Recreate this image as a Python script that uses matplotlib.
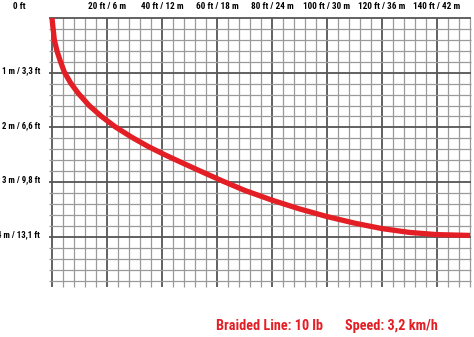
"""Sinking depth chart for braided line: depth (m) against distance (ft)."""
import matplotlib

matplotlib.use("Agg")
import matplotlib.pyplot as plt  # noqa: E402
import numpy as np  # noqa: E402
from matplotlib import font_manager as fm  # noqa: E402

# distance behind the boat [ft] and line depth [m]
distance_ft = [0, 0.1, 0.3, 0.85, 1.8, 2.9, 4.5, 6.8, 9.6, 13.5, 18, 23, 29, 35,
               41, 47, 54, 62, 70, 80, 90, 100, 110, 120, 130, 140, 152]
depth_m = [0, 0.05, 0.15, 0.40, 0.60, 0.77, 0.99, 1.19, 1.38, 1.60, 1.80, 1.99,
           2.18, 2.35, 2.50, 2.64, 2.80, 2.98, 3.15, 3.33, 3.49, 3.63, 3.75,
           3.85, 3.92, 3.96, 3.975]

x_major = [0, 20, 40, 60, 80, 100, 120, 140]
x_labels = ["0 ft", "20 ft / 6 m", "40 ft / 12 m", "60 ft / 18 m", "80 ft / 24 m",
            "100 ft / 30 m", "120 ft / 36 m", "140 ft / 42 m"]
y_major = [1, 2, 3, 4]
y_labels = ["1 m / 3,3 ft", "2 m / 6,6 ft", "3 m / 9,8 ft", "4 m / 13,1 ft"]
caption = ["Braided Line: 10 lb", "Speed: 3,2 km/h"]

X_MAX = 152
Y_MAX = 4.8
RED = "#e31e24"


def condensed_bold():
    """Look for a narrow bold face; the reference uses a condensed sans."""
    prefs = ["liberation sans narrow", "roboto condensed", "open sans condensed",
             "noto sans display", "dejavu sans"]
    found = []
    for f in fm.fontManager.ttflist:
        narrow = ("narrow" in f.name.lower() or "condensed" in f.name.lower()
                  or f.stretch in ("condensed", "semi-condensed"))
        bold = f.weight in ("bold", 700, 600, "semibold", "demibold")
        if narrow and bold:
            rank = next((i for i, p in enumerate(prefs) if p in f.name.lower()), 99)
            found.append((rank, f.fname))
    if found:
        return sorted(found)[0][1]
    return None


FONT_FILE = condensed_bold()


def fp(size):
    if FONT_FILE:
        return fm.FontProperties(fname=FONT_FILE, size=size)
    # no narrow face: shrink DejaVu so the labels keep their width
    return fm.FontProperties(family="DejaVu Sans", weight="bold", size=size * 0.82)


W, H = 474, 337
fig = plt.figure(figsize=(W / 100, H / 100), dpi=100)
ax = fig.add_axes([0, 0, 1, 1])
ax.set_axis_off()

# pixel layout: x=0 ft at px 52, 2.75 px/ft; y=0 m at px 18, 54.7 px/m
px_ft, x0 = 2.75, 52
px_m, y0 = 54.7, 18
ax.set_xlim(-x0 / px_ft, (W - x0) / px_ft)
ax.set_ylim((H - y0) / px_m, -y0 / px_m)

# grid
for xv in np.arange(0, X_MAX + 0.1, 4):
    major = xv % 20 == 0
    ax.vlines(xv, 0, Y_MAX + 0.11, color="#555555" if major else "#9a9a9a",
              lw=1.3 if major else 0.9, zorder=1)
for yv in np.round(np.arange(0, Y_MAX + 0.01, 0.2), 2):
    major = abs(yv - round(yv)) < 1e-6
    ax.hlines(yv, -1.1, X_MAX + 0.4, color="#555555" if major else "#9a9a9a",
              lw=1.3 if major else 0.9, zorder=1)

ax.plot(distance_ft, depth_m, color=RED, lw=3.8, solid_capstyle="butt",
        solid_joinstyle="round", zorder=3)

for xv, lab in zip(x_major, x_labels):
    xpos = -12 if xv == 0 else xv
    ax.text(xpos, -0.215, lab, ha="center", va="center", fontproperties=fp(6.6))
for yv, lab in zip(y_major, y_labels):
    ax.text(-4.3, yv - 0.035, lab, ha="right", va="center", fontproperties=fp(6.3))

ax.text(216 / W, 1 - 326 / H, caption[0], transform=ax.transAxes, ha="left",
        va="center", color=RED, fontproperties=fp(10.3))
ax.text(345 / W, 1 - 326 / H, caption[1], transform=ax.transAxes, ha="left",
        va="center", color=RED, fontproperties=fp(10.3))

fig.savefig("out.png", dpi=100)
